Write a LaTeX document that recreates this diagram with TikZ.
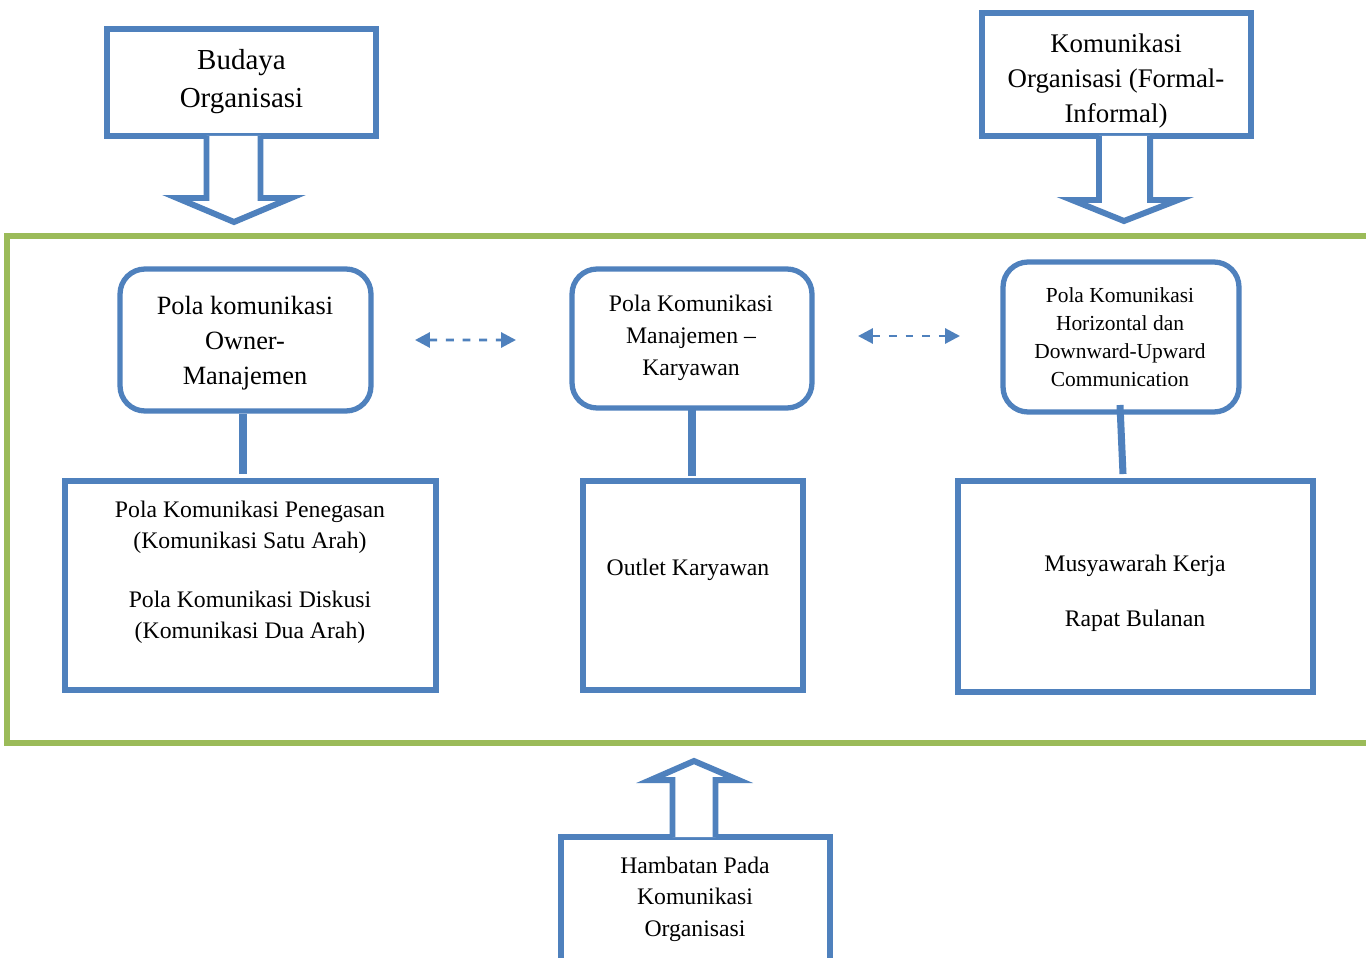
\documentclass[tikz,border=0pt]{standalone}
\usepackage{fontspec}
\setmainfont{Liberation Serif}
\usetikzlibrary{arrows.meta,calc}
\definecolor{obox}{HTML}{4F81BD}
\definecolor{ogreen}{HTML}{9BBB59}
\tikzset{
  px/.style={x=0.02cm,y=-0.02cm},
  sqbox/.style={draw=obox,line width=3pt,rectangle,inner sep=0pt,outer sep=0pt},
  rndbox/.style={draw=obox,line width=3pt,rectangle,rounded corners=0.5cm,inner sep=0pt,outer sep=0pt},
  frame/.style={draw=ogreen,line width=3.4pt},
  blockarrow/.style={draw=obox,line width=3.4pt,fill=white,line join=miter},
  conn/.style={draw=obox,line width=4pt},
  dasharrow/.style={draw=obox,line width=1.7pt,dash pattern=on 4.5pt off 5pt,
    {Triangle[length=8.5pt,width=8.5pt]}-{Triangle[length=8.5pt,width=8.5pt]}},
  txt/.style={align=center,inner sep=0pt,text=black}
}
\begin{document}
\begin{tikzpicture}[px]
\clip (0,0) rectangle (1366,957);
\fill[white] (0,0) rectangle (1366,957);

% green frame
\draw[frame] (7,236) rectangle (1380,743);

% top boxes
\node[sqbox,minimum width=5.38cm,minimum height=2.14cm] (B1) at (241.5,82.5) {};
\node[txt,font=\fontsize{16.5}{21.6}\selectfont] (tB1) at (241.5,82) {Budaya\\Organisasi};
\node[sqbox,minimum width=5.38cm,minimum height=2.46cm] (B2) at (1116.5,74.5) {};
\node[txt,font=\fontsize{15.3}{19.9}\selectfont] (tB2) at (1116,81) {Komunikasi\\Organisasi (Formal-\\Informal)};

% block arrows (top)
\draw[blockarrow] ($(B1.south)+(-35,0)$) -- ++(0,62) -- ++(-29.5,0) -- ($(B1.south)+(-7.5,86)$)
  -- ($(B1.south)+(49.5,62)$) -- ($(B1.south)+(19,62)$) -- ($(B1.south)+(19,0)$);
\draw[blockarrow] ($(B2.south)+(-17.5,0)$) -- ++(0,64) -- ++(-27,0) -- ($(B2.south)+(7.5,85)$)
  -- ($(B2.south)+(61.5,64)$) -- ($(B2.south)+(33.5,64)$) -- ($(B2.south)+(33.5,0)$);

% rounded boxes
\node[rndbox,minimum width=5.02cm,minimum height=2.84cm] (R1) at (245.5,340) {};
\node[txt,font=\fontsize{15}{20}\selectfont] (tR1) at (245,343) {Pola komunikasi\\Owner-\\Manajemen};
\node[rndbox,minimum width=4.8cm,minimum height=2.78cm] (R2) at (692,338.5) {};
\node[txt,font=\fontsize{13.5}{18.2}\selectfont] (tR2) at (691,338) {Pola Komunikasi\\Manajemen --\\Karyawan};
\node[rndbox,minimum width=4.72cm,minimum height=3.0cm] (R3) at (1121,337) {};
\node[txt,font=\fontsize{12.2}{15.9}\selectfont] (tR3) at (1120,337) {Pola Komunikasi\\Horizontal dan\\Downward-Upward\\Communication};

% lower boxes
\node[sqbox,minimum width=7.42cm,minimum height=4.18cm] (S1) at (250.5,585.5) {};
\node[txt,font=\fontsize{13.5}{17.6}\selectfont] (tS1) at (250,572) {Pola Komunikasi Penegasan\\(Komunikasi Satu Arah)\\[16pt]Pola Komunikasi Diskusi\\(Komunikasi Dua Arah)};
\node[sqbox,minimum width=4.4cm,minimum height=4.18cm] (S2) at (693,585.5) {};
\node[txt,font=\fontsize{13.5}{17.6}\selectfont] (tS2) at (688,570) {Outlet Karyawan};
\node[sqbox,minimum width=7.1cm,minimum height=4.22cm] (S3) at (1135.5,586.5) {};
\node[txt,font=\fontsize{13.5}{31.2}\selectfont] (tS3) at (1135,593) {Musyawarah Kerja\\Rapat Bulanan};

% bottom box
\node[sqbox,minimum width=5.38cm,minimum height=2.56cm] (H) at (695.5,901) {};
\node[txt,font=\fontsize{13.5}{17.9}\selectfont] (tH) at (695,899) {Hambatan Pada\\Komunikasi\\Organisasi};

% bottom block arrow
\draw[blockarrow] ($(H.north)+(-23,0)$) -- ++(0,-57) -- ++(-22,0) -- ($(H.north)+(-1.5,-76)$)
  -- ($(H.north)+(43,-57)$) -- ($(H.north)+(20,-57)$) -- ($(H.north)+(20,0)$);

% connectors
\draw[conn] ($(R1.south)+(-2.5,3)$) -- ($(S1.north)+(-7.5,-7)$);
\draw[conn] ($(R2.south)+(0,0)$) -- ($(S2.north)+(-1,-5)$);
\draw[conn] ($(R3.south)+(-1,-7)$) -- ($(S3.north)+(-12.5,-7)$);

% dashed arrows
\draw[dasharrow] ($(R1.east)+(44,0)$) -- ($(R2.west)+(-56,1.5)$);
\draw[dasharrow] ($(R2.east)+(46,-2.5)$) -- ($(R3.west)+(-43,-1)$);
\end{tikzpicture}
\end{document}
